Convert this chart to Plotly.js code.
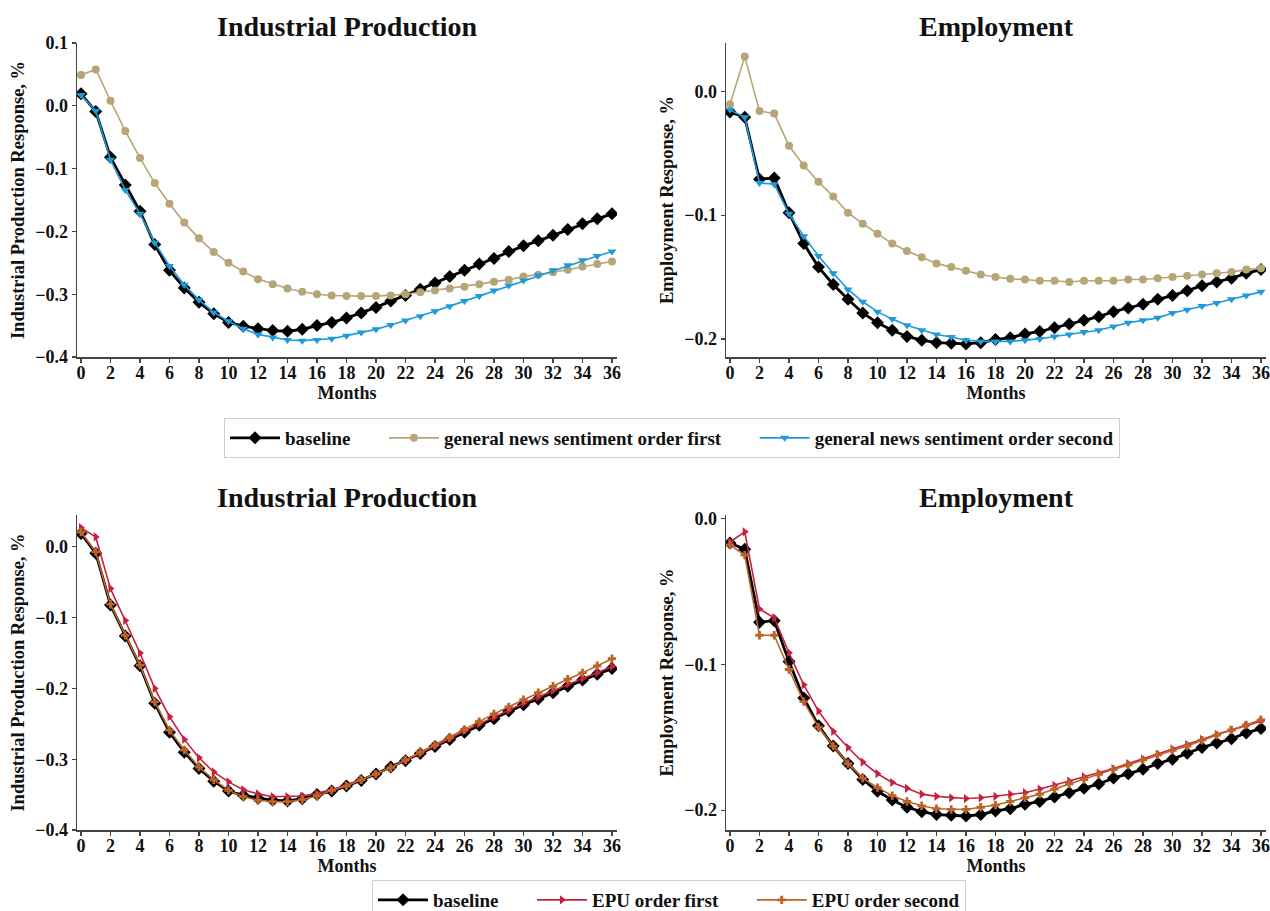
<!DOCTYPE html>
<html>
<head>
<meta charset="utf-8">
<script src="https://cdn.plot.ly/plotly-3.0.1.min.js"></script>
<style>html,body{margin:0;padding:0;background:#fff;}#chart{width:1270px;height:911px;}</style>
</head>
<body>
<div id="chart"></div>
<script>
// ---------- data ----------
const months = Array.from({length: 37}, (_, i) => i);

const ipBaseline = [0.019,-0.009,-0.082,-0.126,-0.168,-0.221,-0.262,-0.290,-0.313,-0.331,-0.345,-0.351,-0.355,-0.358,-0.359,-0.356,-0.350,-0.345,-0.338,-0.330,-0.321,-0.311,-0.302,-0.292,-0.282,-0.272,-0.262,-0.252,-0.243,-0.232,-0.223,-0.215,-0.206,-0.197,-0.188,-0.180,-0.172];
const ipNewsFirst = [0.049,0.058,0.008,-0.040,-0.083,-0.123,-0.156,-0.186,-0.211,-0.233,-0.250,-0.264,-0.276,-0.284,-0.291,-0.296,-0.300,-0.302,-0.303,-0.303,-0.303,-0.302,-0.300,-0.297,-0.294,-0.291,-0.288,-0.284,-0.280,-0.277,-0.272,-0.269,-0.265,-0.261,-0.256,-0.252,-0.248];
const ipNewsSecond = [0.017,-0.008,-0.086,-0.134,-0.172,-0.218,-0.255,-0.285,-0.309,-0.329,-0.343,-0.355,-0.364,-0.369,-0.373,-0.374,-0.373,-0.371,-0.366,-0.361,-0.356,-0.349,-0.342,-0.335,-0.327,-0.319,-0.311,-0.303,-0.294,-0.286,-0.278,-0.270,-0.262,-0.254,-0.246,-0.239,-0.232];

const empBaseline = [-0.0167,-0.021,-0.071,-0.070,-0.098,-0.123,-0.142,-0.156,-0.168,-0.179,-0.187,-0.193,-0.198,-0.201,-0.203,-0.2035,-0.204,-0.203,-0.2005,-0.199,-0.196,-0.194,-0.191,-0.188,-0.185,-0.182,-0.178,-0.175,-0.172,-0.168,-0.165,-0.161,-0.157,-0.154,-0.151,-0.147,-0.144];
const empNewsFirst = [-0.0105,0.028,-0.016,-0.018,-0.044,-0.060,-0.073,-0.085,-0.098,-0.107,-0.115,-0.123,-0.129,-0.134,-0.139,-0.142,-0.145,-0.148,-0.150,-0.1515,-0.152,-0.153,-0.153,-0.154,-0.153,-0.153,-0.153,-0.152,-0.152,-0.151,-0.150,-0.149,-0.148,-0.147,-0.146,-0.144,-0.143];
const empNewsSecond = [-0.015,-0.021,-0.074,-0.075,-0.099,-0.117,-0.133,-0.147,-0.160,-0.170,-0.178,-0.184,-0.189,-0.193,-0.1965,-0.1985,-0.201,-0.202,-0.202,-0.202,-0.201,-0.200,-0.198,-0.1965,-0.1945,-0.193,-0.190,-0.187,-0.185,-0.183,-0.179,-0.1765,-0.1735,-0.171,-0.168,-0.165,-0.162];

const ipEpuFirst = [0.027,0.014,-0.059,-0.104,-0.150,-0.200,-0.240,-0.272,-0.298,-0.318,-0.332,-0.343,-0.349,-0.353,-0.353,-0.352,-0.348,-0.343,-0.336,-0.329,-0.321,-0.312,-0.302,-0.292,-0.281,-0.271,-0.260,-0.250,-0.241,-0.231,-0.221,-0.212,-0.203,-0.194,-0.186,-0.178,-0.169];
const ipEpuSecond = [0.021,-0.007,-0.081,-0.125,-0.167,-0.219,-0.259,-0.287,-0.311,-0.329,-0.344,-0.353,-0.358,-0.360,-0.360,-0.357,-0.352,-0.344,-0.338,-0.329,-0.321,-0.312,-0.301,-0.290,-0.280,-0.269,-0.258,-0.247,-0.236,-0.226,-0.216,-0.206,-0.197,-0.187,-0.178,-0.168,-0.158];

const empEpuFirst = [-0.016,-0.009,-0.062,-0.068,-0.092,-0.114,-0.132,-0.146,-0.157,-0.167,-0.175,-0.181,-0.185,-0.189,-0.1905,-0.1915,-0.192,-0.1915,-0.1905,-0.189,-0.188,-0.1855,-0.183,-0.180,-0.177,-0.1745,-0.1715,-0.168,-0.165,-0.1615,-0.158,-0.155,-0.1515,-0.148,-0.145,-0.142,-0.139];
const empEpuSecond = [-0.018,-0.025,-0.080,-0.080,-0.1035,-0.1255,-0.143,-0.156,-0.168,-0.178,-0.1845,-0.190,-0.194,-0.197,-0.199,-0.1995,-0.1995,-0.198,-0.1965,-0.194,-0.1915,-0.189,-0.1855,-0.182,-0.179,-0.1755,-0.172,-0.169,-0.1655,-0.162,-0.159,-0.156,-0.152,-0.1485,-0.145,-0.1415,-0.138];

const panelTitles = ["Industrial Production", "Employment", "Industrial Production", "Employment"];
const yTitles = ["Industrial Production Response, %", "Employment Response, %", "Industrial Production Response, %", "Employment Response, %"];
const xTitle = "Months";
const seriesNames = {
  base: "baseline",
  newsFirst: "general news sentiment order first",
  newsSecond: "general news sentiment order second",
  epuFirst: "EPU order first",
  epuSecond: "EPU order second"
};

// ---------- styles ----------
const FONT = "Liberation Serif, Times New Roman, serif";
const C = {base: "#000000", newsFirst: "#b8a577", newsSecond: "#1f9ad8", epuFirst: "#c8203f", epuSecond: "#bb6428"};
const PAD = "\u00a0\u00a0\u00a0\u00a0\u00a0\u00a0"; // gap after non-final legend entries

function tr(y, key, xa, ya, legend, showlegend, pad) {
  const st = {
    base: {sym: "diamond", size: 10, w: 2.8},
    newsFirst: {sym: "circle", size: 8, w: 1.6},
    newsSecond: {sym: "triangle-down", size: 8, w: 1.6},
    epuFirst: {sym: "triangle-right", size: 8, w: 1.6},
    epuSecond: {sym: "cross", size: 7, w: 1.6}
  }[key];
  return {
    x: months, y: y, type: "scatter", mode: "lines+markers",
    name: seriesNames[key] + (pad ? PAD : ""), xaxis: xa, yaxis: ya,
    legend: legend, showlegend: showlegend,
    line: {color: C[key], width: st.w},
    marker: {symbol: st.sym, size: st.size, color: C[key]}
  };
}

const data = [
  tr(ipBaseline, "base", "x", "y", "legend", true, true),
  tr(ipNewsFirst, "newsFirst", "x", "y", "legend", true, true),
  tr(ipNewsSecond, "newsSecond", "x", "y", "legend", true, false),
  tr(empBaseline, "base", "x2", "y2", "legend", false),
  tr(empNewsFirst, "newsFirst", "x2", "y2", "legend", false),
  tr(empNewsSecond, "newsSecond", "x2", "y2", "legend", false),
  tr(ipBaseline, "base", "x3", "y3", "legend2", true, true),
  tr(ipEpuFirst, "epuFirst", "x3", "y3", "legend2", true, true),
  tr(ipEpuSecond, "epuSecond", "x3", "y3", "legend2", true, false),
  tr(empBaseline, "base", "x4", "y4", "legend2", false),
  tr(empEpuFirst, "epuFirst", "x4", "y4", "legend2", false),
  tr(empEpuSecond, "epuSecond", "x4", "y4", "legend2", false)
];

const W = 1270, H = 911;
const px = v => v / W;
const py = v => 1 - v / H;

function xax(l, r, anchor) {
  return {
    domain: [px(l), px(r)], anchor: anchor, range: [-0.27, 36.34],
    tickmode: "linear", tick0: 0, dtick: 2,
    showline: true, linecolor: "#444", linewidth: 1.5,
    ticks: "outside", ticklen: 4, tickcolor: "#444", tickwidth: 1.2,
    ticklabelstandoff: -5,
    showgrid: false, zeroline: false,
    tickfont: {family: FONT, size: 18, color: "#111", weight: "bold"},
    title: {text: "<b>" + xTitle + "</b>", font: {family: FONT, size: 18, color: "#111"}, standoff: 0}
  };
}
function yax(top, bot, range, anchor, title) {
  return {
    domain: [py(bot), py(top)], anchor: anchor, range: range,
    tickmode: "linear", tick0: 0, dtick: 0.1, tickformat: ".1f",
    showline: true, linecolor: "#444", linewidth: 1.5,
    ticks: "outside", ticklen: 4, tickcolor: "#444", tickwidth: 1.2,
    showgrid: false, zeroline: false,
    tickfont: {family: FONT, size: 18, color: "#111", weight: "bold"},
    title: {text: "<b>" + title + "</b>", font: {family: FONT, size: 18.5, color: "#111"}, standoff: 5}
  };
}

function ann(text, xc, yc) {
  return {text: "<b>" + text + "</b>", x: px(xc), y: py(yc), xref: "paper", yref: "paper",
    xanchor: "center", yanchor: "middle", showarrow: false,
    font: {family: FONT, size: 28, color: "#111"}};
}

const legendFont = {family: FONT, size: 19, color: "#111", weight: "bold"};

const layout = {
  width: W, height: H,
  margin: {l: 0, r: 0, t: 0, b: 0, autoexpand: false},
  paper_bgcolor: "#fff", plot_bgcolor: "#fff",
  font: {family: FONT, color: "#111"},
  xaxis: xax(77, 617, "y"),
  yaxis: yax(43, 357, [-0.4, 0.1], "x", yTitles[0]),
  xaxis2: xax(726, 1266, "y2"),
  yaxis2: yax(43, 357, [-0.2146, 0.039], "x2", yTitles[1]),
  xaxis3: xax(77, 617, "y3"),
  yaxis3: yax(515, 830, [-0.4, 0.045], "x3", yTitles[2]),
  xaxis4: xax(726, 1266, "y4"),
  yaxis4: yax(515, 830, [-0.2136, 0.0025], "x4", yTitles[3]),
  annotations: [
    ann(panelTitles[0], 347, 27),
    ann(panelTitles[1], 996, 27),
    ann(panelTitles[2], 347, 497),
    ann(panelTitles[3], 996, 497)
  ],
  legend: {
    orientation: "h", x: px(672), xanchor: "center", y: py(418), yanchor: "top",
    bordercolor: "#d0d0d0", borderwidth: 1, bgcolor: "#fff",
    font: legendFont, itemwidth: 50
  },
  legend2: {
    orientation: "h", x: px(669), xanchor: "center", y: py(880), yanchor: "top",
    bordercolor: "#d0d0d0", borderwidth: 1, bgcolor: "#fff",
    font: legendFont, itemwidth: 50
  }
};

Plotly.newPlot("chart", data, layout, {displayModeBar: false, staticPlot: true});
</script>
</body>
</html>
